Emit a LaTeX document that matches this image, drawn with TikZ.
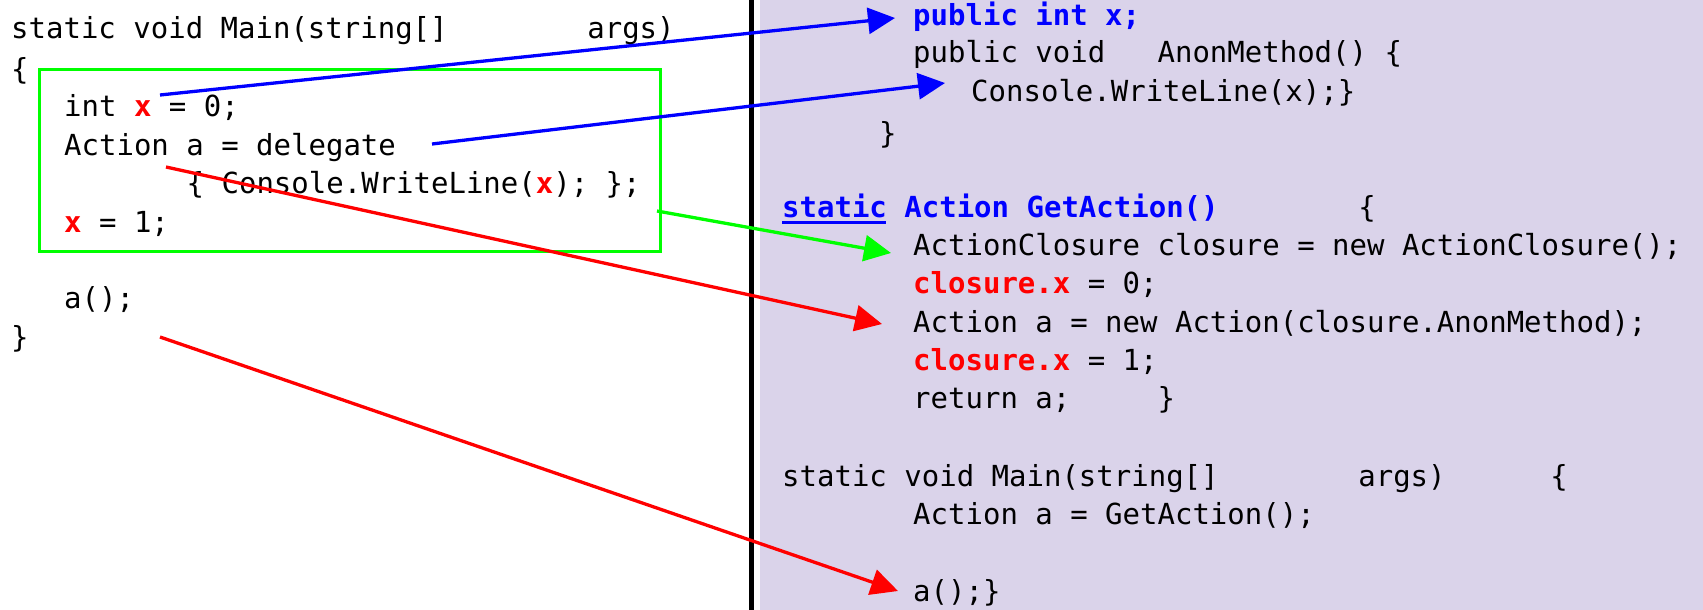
\documentclass[tikz,border=0pt]{standalone}
\usepackage{fontspec}
\setmonofont{DejaVu Sans Mono}
\usetikzlibrary{arrows.meta}
\definecolor{lilac}{RGB}{218,211,234}
\newcommand{\rx}{\textbf{\color{red}x}}
\newcommand{\rcx}{\textbf{\color{red}closure.x}}

\begin{document}
\begin{tikzpicture}[x=1pt,y=-1pt,
        code/.style={anchor=base west, inner sep=0pt, font=\ttfamily\fontsize{29}{38}\selectfont},
        link/.style={line width=3.3pt, -{Triangle[length=27pt,width=26pt]}}]
        \useasboundingbox (0,0) rectangle (1703,610);
        \fill[lilac] (760,0) rectangle (1703,610);
        \draw[line width=4.5pt] (751.5,0) -- (751.5,610);
        \draw[green, line width=3pt] (39,70) rectangle (660,251);

        % lambda version
        \node[code] (lmain) at (11,39) {static void Main(string[]~~~~~~~~args)};
        \node[code] (lopen) at (11,80) {\{};
        \node[code] (lint) at (64,117) {int \rx{} = 0;};
        \node[code] (lact) at (64,155) {Action a = delegate};
        \node[code] (ldel) at (186.5,193) {\{ Console.WriteLine(\rx); \};};
        \node[code] (lset) at (64,232) {\rx{} = 1;};
        \node[code] (lcall) at (64,308) {a();};
        \node[code] (lclose) at (11,347) {\}};

        % compiled version
        \node[code, blue] (rfield) at (913,26) {\textbf{public int x;}};
        \node[code] (rmeth) at (913,63) {public void~~~AnonMethod() \{};
        \node[code] (rbody) at (971,102) {Console.WriteLine(x);\}};
        \node[code] (rend) at (879,143) {\}};
        \node[code, blue] (rget) at (782,217) {\textbf{static Action GetAction()}~~~~~~~~\textcolor{black}{\{}};
        \draw[blue, line width=3pt] (rget.base west) ++(0,5) -- ++(104,0);
        \node[code] (rnew) at (913,255) {ActionClosure closure = new ActionClosure();};
        \node[code] (rzero) at (913,293) {\rcx{} = 0;};
        \node[code] (ract) at (913,332) {Action a = new Action(closure.AnonMethod);};
        \node[code] (rone) at (913,370) {\rcx{} = 1;};
        \node[code] (rret) at (913,408) {return a;~~~~~\}};
        \node[code] (rmain) at (782,486) {static void Main(string[]~~~~~~~~args)~~~~~~\{};
        \node[code] (rgetcall) at (913,524) {Action a = GetAction();};
        \node[code] (rcall) at (913,601) {a();\}};

        \coordinate (xa) at (160,95); \coordinate (xb) at (895,18);
        \coordinate (da) at (432,144); \coordinate (db) at (945,83);
        \coordinate (ga) at (657,211); \coordinate (gb) at (891,253);
        \coordinate (na) at (166,167); \coordinate (nb) at (882,324);
        \coordinate (ca) at (160,337); \coordinate (cb) at (898,591);
        \foreach \s/\t/\c in {xa/xb/blue, da/db/blue, ga/gb/green, na/nb/red, ca/cb/red}
            \draw[link, \c] (\s) -- (\t);
    \end{tikzpicture}
\end{document}
